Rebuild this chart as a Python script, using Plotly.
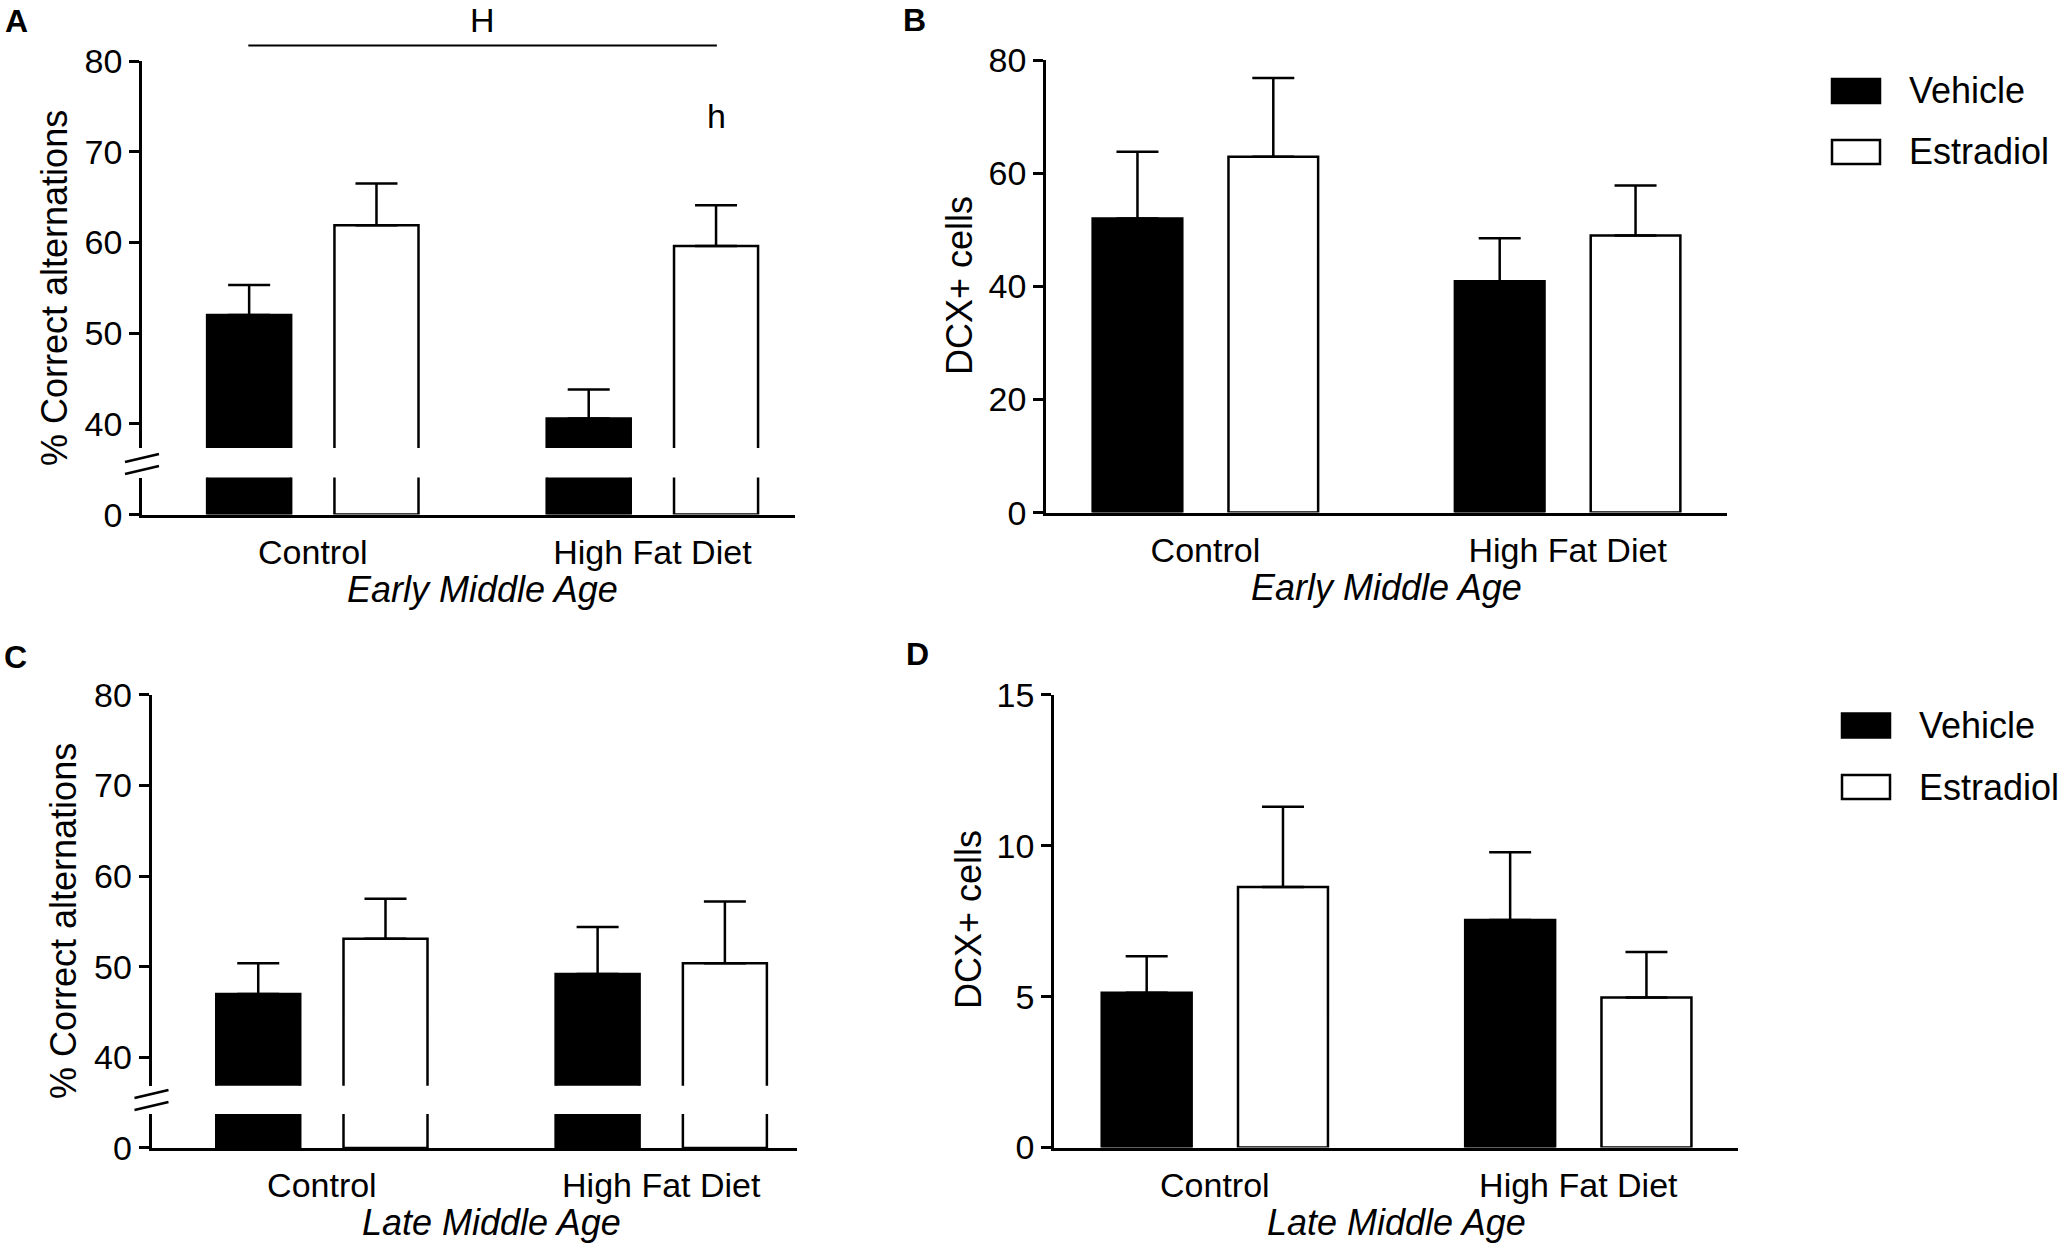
import plotly.graph_objects as go

# data
categories = ["Control", "High Fat Diet"]
series_names = ["Vehicle", "Estradiol"]

a_vehicle = [52.0, 40.6]
a_vehicle_err = [3.3, 3.2]
a_estradiol = [61.9, 59.6]
a_estradiol_err = [4.6, 4.5]

b_vehicle = [52.0, 40.9]
b_vehicle_err = [11.8, 7.6]
b_estradiol = [62.9, 49.0]
b_estradiol_err = [13.9, 8.8]

c_vehicle = [47.0, 49.2]
c_vehicle_err = [3.4, 5.2]
c_estradiol = [53.1, 50.4]
c_estradiol_err = [4.4, 6.8]

d_vehicle = [5.13, 7.54]
d_vehicle_err = [1.21, 2.24]
d_estradiol = [8.63, 4.97]
d_estradiol_err = [2.66, 1.51]

pct_ticks = [40, 50, 60, 70, 80]
dcx_early_ticks = [0, 20, 40, 60, 80]
dcx_late_ticks = [0, 5, 10, 15]

W, H = 2061, 1246
FONT = "Liberation Sans, Arial, Helvetica, sans-serif"
LW = 2.5


def px(x):
    return x / W


def py(y):
    return 1 - y / H


fills = ["black", "white"]

fig = go.Figure()


def add_bars(xa, ya, groups, with_err=True):
    for name, fill, (vals, errs) in zip(series_names, fills, groups):
        err = None
        if with_err:
            err = dict(type="data", symmetric=False, array=errs,
                       arrayminus=[0] * len(errs), color="black",
                       thickness=LW, width=21)
        fig.add_trace(go.Bar(
            x=categories, y=vals, name=name, xaxis=xa, yaxis=ya,
            marker=dict(color=fill, line=dict(color="black", width=LW)),
            error_y=err, showlegend=False,
        ))


# A: early middle age, alternations (broken axis)
a_groups = [(a_vehicle, a_vehicle_err), (a_estradiol, a_estradiol_err)]
add_bars("x", "y", a_groups, with_err=False)
add_bars("x", "y2", a_groups)
# B: early middle age, DCX
add_bars("x2", "y3", [(b_vehicle, b_vehicle_err), (b_estradiol, b_estradiol_err)])
# C: late middle age, alternations (broken axis)
c_groups = [(c_vehicle, c_vehicle_err), (c_estradiol, c_estradiol_err)]
add_bars("x3", "y4", c_groups, with_err=False)
add_bars("x3", "y5", c_groups)
# D: late middle age, DCX
add_bars("x4", "y6", [(d_vehicle, d_vehicle_err), (d_estradiol, d_estradiol_err)])

xbase = dict(showline=True, linewidth=LW, linecolor="black", ticks="",
             showgrid=False, zeroline=False, tickfont=dict(size=34),
             ticklabelstandoff=6, fixedrange=True, automargin=False)
ybase = dict(showline=True, linewidth=LW, linecolor="black", ticks="outside",
             ticklen=10, tickwidth=LW, tickcolor="black", showgrid=False,
             zeroline=False, tickfont=dict(size=34), fixedrange=True,
             automargin=False)

fig.update_layout(
    width=W, height=H,
    margin=dict(l=0, r=0, t=0, b=0, pad=0, autoexpand=False),
    paper_bgcolor="white", plot_bgcolor="white",
    font=dict(family=FONT, color="black"),
    showlegend=False,
    barmode="group", bargap=0.25, bargroupgap=0.34,
    xaxis=dict(xbase, domain=[px(142), px(795)], range=[-0.503, 1.42], anchor="y"),
    yaxis=dict(ybase, domain=[py(514.6), py(477.5)], range=[0, 4.09],
               tickvals=[0], anchor="x"),
    yaxis2=dict(ybase, domain=[py(448), py(61)], range=[37.35, 80],
                tickvals=pct_ticks, anchor="x"),
    xaxis2=dict(xbase, domain=[px(1046), px(1727)], range=[-0.44, 1.44], anchor="y3"),
    yaxis3=dict(ybase, domain=[py(512.6), py(60)], range=[0, 80],
                tickvals=dcx_early_ticks, anchor="x2"),
    xaxis3=dict(xbase, domain=[px(151.5), px(797)], range=[-0.502, 1.40], anchor="y4"),
    yaxis4=dict(ybase, domain=[py(1147.9), py(1114)], range=[0, 3.74],
                tickvals=[0], anchor="x3"),
    yaxis5=dict(ybase, domain=[py(1085.8), py(694.8)], range=[36.88, 80],
                tickvals=pct_ticks, anchor="x3"),
    xaxis4=dict(xbase, domain=[px(1054), px(1737.5)], range=[-0.4425, 1.438], anchor="y6"),
    yaxis6=dict(ybase, domain=[py(1147.5), py(694.8)], range=[0, 15],
                tickvals=dcx_late_ticks, anchor="x4"),
)

shapes = []
annotations = []


def note(text, xref, x, y, size, **kw):
    d = dict(text=text, xref=xref, yref="paper", x=x, y=y, showarrow=False,
             xanchor="center", yanchor="middle", font=dict(size=size))
    d.update(kw)
    annotations.append(d)


# axis break marks
for ax_x, ys in [(142, [458, 470]), (151.5, [1094, 1106])]:
    for yc in ys:
        shapes.append(dict(type="line", xref="paper", yref="paper",
                           x0=px(ax_x - 17), y0=py(yc + 4),
                           x1=px(ax_x + 17), y1=py(yc - 4),
                           line=dict(color="black", width=LW)))

# significance marks in A
shapes.append(dict(type="line", xref="x", yref="paper", x0=-0.19, x1=1.19,
                   y0=py(45.5), y1=py(45.5), line=dict(color="black", width=2)))
note("H", "x", 0.5, py(20), 34)
note("h", "x", 1.19, py(116), 34)

# panel letters
for letter, lx, ly in [("A", 16, 21), ("B", 914, 20), ("C", 15, 657), ("D", 917, 654)]:
    note("<b>%s</b>" % letter, "paper", px(lx), py(ly), 32)

# x titles (centred between the two groups)
for xa, label, ty in [("x", "Early Middle Age", 589), ("x2", "Early Middle Age", 587),
                      ("x3", "Late Middle Age", 1222), ("x4", "Late Middle Age", 1222)]:
    note("<i>%s</i>" % label, xa, 0.5, py(ty), 36)

# y titles
for label, tx, ty in [("% Correct alternations", 54, 288), ("DCX+ cells", 960, 286),
                      ("% Correct alternations", 63, 921), ("DCX+ cells", 969, 920)]:
    note(label, "paper", px(tx), py(ty), 36, textangle=-90)

# legends for B and D
for lx, tx, y_rows in [(1832, 1907, [91, 152]), (1842, 1917, [725.5, 787])]:
    for name, fill, yc in zip(series_names, fills, y_rows):
        shapes.append(dict(type="rect", xref="paper", yref="paper",
                           x0=px(lx), x1=px(lx + 48), y0=py(yc + 12), y1=py(yc - 12),
                           fillcolor=fill, line=dict(color="black", width=LW)))
        note(name, "paper", px(tx), py(yc), 36, xanchor="left")

fig.update_layout(shapes=shapes, annotations=annotations)

fig.write_html("out.html", config={"displayModeBar": False},
               post_script="document.body.style.margin='0';")
